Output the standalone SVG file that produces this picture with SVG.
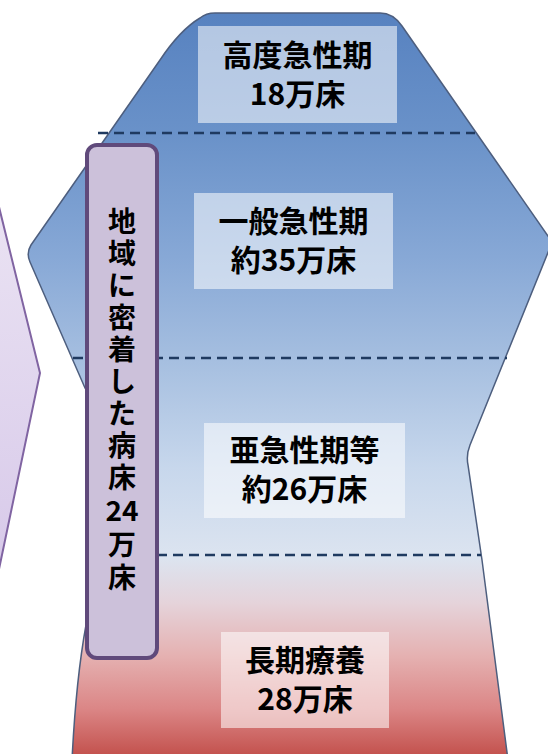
<svg xmlns="http://www.w3.org/2000/svg" width="548" height="754" viewBox="0 0 548 754">
<defs>
<linearGradient id="bodyGrad" x1="0" y1="0" x2="0" y2="754" gradientUnits="userSpaceOnUse">
<stop offset="0" stop-color="#5580bf"/>
<stop offset="0.18" stop-color="#6a92c9"/>
<stop offset="0.34" stop-color="#87a8d6"/>
<stop offset="0.48" stop-color="#a6bfe0"/>
<stop offset="0.62" stop-color="#c7d7ec"/>
<stop offset="0.74" stop-color="#dce4f0"/>
<stop offset="0.80" stop-color="#e5d3da"/>
<stop offset="0.87" stop-color="#e5b1b1"/>
<stop offset="0.94" stop-color="#db8686"/>
<stop offset="1" stop-color="#c4534f"/>
</linearGradient>
<linearGradient id="chevGrad" x1="0" y1="130" x2="0" y2="660" gradientUnits="userSpaceOnUse">
<stop offset="0" stop-color="#eee8f5"/>
<stop offset="1" stop-color="#d3c3e7"/>
</linearGradient>
<style>
.lbl{fill:#ffffff;fill-opacity:0.55}
.t{font-family:"Noto Sans CJK JP","Noto Sans CJK SC",sans-serif;font-weight:bold;font-size:30px;fill:#000;text-anchor:middle}
.v{font-family:"Noto Sans CJK JP","Noto Sans CJK SC",sans-serif;font-weight:bold;font-size:28px;fill:#000;text-anchor:middle}
.dash{stroke:#1f3a60;stroke-width:2.5;stroke-dasharray:10 6;fill:none}
</style>
</defs>

<g id="chevron">
<polygon points="-20,130 40,373 -20,660" fill="url(#chevGrad)" stroke="#8064a2" stroke-width="2"/>
</g>

<g id="body">
<path d="M 215,13 L 380,13 Q 393,13 402,26 L 548,236 Q 553,243 549,250 L 470,445 Q 466,455 468,465 L 482,560 L 508,760 L 72,760 Q 76,680 86,625 L 92,600 L 92,400 L 85,388 L 30,262 Q 26,253 31,245 L 160,60 Q 180,30 200,18 Q 206,13 215,13 Z" fill="url(#bodyGrad)" stroke="#4d5e7e" stroke-width="1.5"/>
</g>

<g id="dividers">
<line class="dash" x1="98" y1="133" x2="475" y2="133"/>
<line class="dash" x1="73" y1="358" x2="507" y2="358"/>
<line class="dash" x1="157" y1="555" x2="481" y2="555"/>
</g>

<g id="node-koudo">
<rect class="lbl" x="198" y="26" width="199" height="97"/>
<text class="t" x="297.5" y="66">高度急性期</text>
<text class="t" x="297.5" y="105">18万床</text>
</g>

<g id="node-ippan">
<rect class="lbl" x="194" y="193" width="199" height="96"/>
<text class="t" x="293.5" y="232">一般急性期</text>
<text class="t" x="293.5" y="271">約35万床</text>
</g>

<g id="node-akyuu">
<rect class="lbl" x="204" y="423" width="201" height="95"/>
<text class="t" x="304.5" y="461">亜急性期等</text>
<text class="t" x="304.5" y="500">約26万床</text>
</g>

<g id="node-chouki">
<rect class="lbl" x="221" y="632" width="168" height="96"/>
<text class="t" x="305" y="671">長期療養</text>
<text class="t" x="305" y="710">28万床</text>
</g>

<g id="node-chiiki">
<rect x="87" y="145" width="70" height="513" rx="10" ry="10" fill="#ccc1da" stroke="#604a7b" stroke-width="4"/>
<text class="v" x="122" y="232">地</text>
<text class="v" x="122" y="264">域</text>
<text class="v" x="122" y="296">に</text>
<text class="v" x="122" y="328">密</text>
<text class="v" x="122" y="360">着</text>
<text class="v" x="122" y="392">し</text>
<text class="v" x="122" y="424">た</text>
<text class="v" x="122" y="456">病</text>
<text class="v" x="122" y="488">床</text>
<text class="v" x="122" y="521">24</text>
<text class="v" x="122" y="555">万</text>
<text class="v" x="122" y="588">床</text>
</g>
</svg>
